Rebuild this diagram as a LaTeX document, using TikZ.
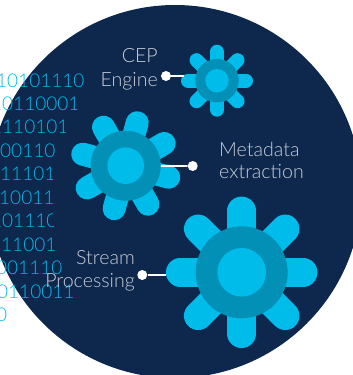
\documentclass[tikz,border=0pt]{standalone}
\usepackage{fontspec}
\setmainfont{Lato}[UprightFont=* Light]
\definecolor{navy}{HTML}{0D274D}
\definecolor{sky}{HTML}{00BCEB}
\definecolor{ringc}{HTML}{0290B6}
\definecolor{labelc}{HTML}{C9CED8}
\begin{document}
\begin{tikzpicture}[x=1pt,y=-1pt,
  disc/.style={circle,fill=navy,minimum size=373pt,inner sep=0pt},
  bits/.style={text=sky,anchor=base west,inner sep=0pt,font=\fontsize{19}{19}\selectfont},
  ringd/.style={circle,fill=ringc,inner sep=0pt},
  hub/.style={circle,fill=sky,inner sep=0pt},
  petal/.style={draw=sky,line cap=round},
  dot/.style={circle,fill=white,inner sep=0pt,minimum size=10pt},
  conn/.style={draw=white,line width=1.8pt},
  lab/.style={text=labelc,inner sep=0pt,font=\fontsize{19.6}{23}\selectfont}]
\useasboundingbox (0,0) rectangle (353,375);
\clip (0,0) rectangle (353,375);
\node[disc] (bg) at (175,191.5) {};
% binary stream, its right end fading along a curve
\begin{scope}
\clip (-5,60) -- (88,60) -- (83,88) -- (76,112) -- (64,135) -- (55,160) -- (52,185) -- (52,210) -- (54,232) -- (56,252) -- (65,276) -- (77,300) -- (77,330) -- (-5,330) -- cycle;
\node[bits] (b1) at (-4,87) {10101110};
\node[bits] (b2) at (-9,110) {10110001};
\node[bits] (b3) at (-9,133) {1110101};
\node[bits] (b4) at (-11,157) {100110};
\node[bits] (b5) at (-11,180) {111101};
\node[bits] (b6) at (-12,204) {110011};
\node[bits] (b7) at (-9,227) {101110};
\node[bits] (b8) at (-10,251) {111001};
\node[bits] (b9) at (-4,274) {001110};
\node[bits] (b10) at (-3,298) {0110011};
\node[bits] (b11) at (-4,321) {0};
\end{scope}
% gear 1
\foreach \a in {0,45,...,315}
  \draw[petal,line width=14pt] (217,80.7) -- ++(\a:29);
\node[ringd,minimum size=43.5pt] (r1) at (217,80.7) {};
\node[hub,minimum size=23.5pt] (h1) at (217,80.7) {};
% gear 2
\foreach \a in {15,60,...,330}
  \draw[petal,line width=23pt] (125.7,165.7) -- ++(\a:44.5);
% gear 3
\foreach \a in {0,45,...,315}
  \draw[petal,line width=28.5pt] (241.7,272.3) -- ++(\a:61.5);
% connectors
\node[dot] (d1) at (166,76) {};
\node[dot] (d2) at (192.7,166) {};
\node[dot] (d3) at (142.3,275) {};
\coordinate (e1) at (184,76);
\coordinate (e3) at (166,275);
\node[ringd,minimum size=70pt] (r2) at (125.7,165.7) {};
\node[hub,minimum size=36.6pt] (h2) at (125.7,165.7) {};
\node[ringd,minimum size=92pt] (r3) at (241.7,272.3) {};
\node[hub,minimum size=48.6pt] (h3) at (241.7,272.3) {};
\draw[conn] (d1) -- (e1);
\draw[conn] (d2) -- (r2);
\draw[conn] (d3) -- (e3);
% labels
\node[lab,anchor=base east] (t1a) at (158,62.7) {CEP};
\node[lab,anchor=base east] (t1b) at (158,86) {Engine};
\node[lab,anchor=base west] (t2a) at (219,156) {Metadata};
\node[lab,anchor=base west] (t2b) at (219,178) {extraction};
\node[lab,anchor=base east] (t3a) at (135,264) {Stream};
\node[lab,anchor=base east] (t3b) at (135,287) {Processing};
\end{tikzpicture}
\end{document}
